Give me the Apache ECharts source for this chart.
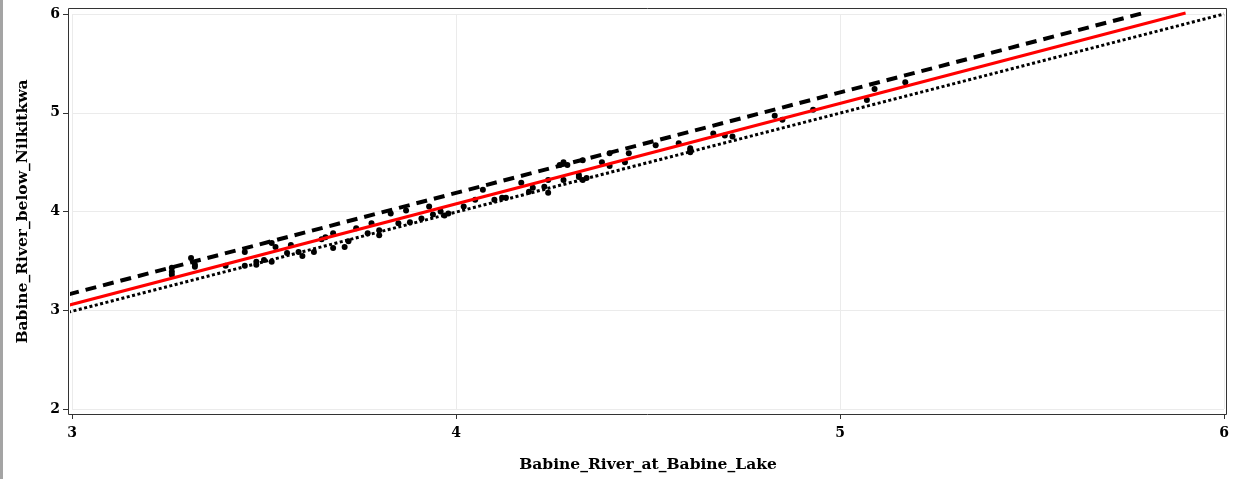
<!DOCTYPE html>
<html>
<head>
<meta charset="utf-8">
<script src="https://cdn.jsdelivr.net/npm/echarts@6/dist/echarts.min.js"></script>
<style>
  html, body { margin: 0; padding: 0; background: #fff; }
  #ec { width: 1233px; height: 479px; box-sizing: border-box; border-left: 3px solid #a4a4a4; }
</style>
</head>
<body>
<div id="ec"></div>
<script>
const obsX = [3.26, 3.26, 3.26, 3.31, 3.32, 3.32, 3.40, 3.45, 3.45, 3.48, 3.48, 3.50, 3.52, 3.52, 3.53, 3.56, 3.57, 3.59, 3.60, 3.63,
  3.65, 3.66, 3.68, 3.68, 3.71, 3.72, 3.74, 3.77, 3.78, 3.80, 3.80, 3.83, 3.85, 3.87, 3.88, 3.91, 3.93, 3.94, 3.96, 3.97,
  3.98, 4.02, 4.05, 4.07, 4.10, 4.12, 4.13, 4.17, 4.19, 4.20, 4.23, 4.24, 4.24, 4.27, 4.28, 4.28, 4.29, 4.32, 4.32, 4.33,
  4.33, 4.34, 4.38, 4.40, 4.40, 4.44, 4.45, 4.52, 4.58, 4.61, 4.61, 4.61, 4.67, 4.70, 4.72, 4.83, 4.85, 4.93, 5.07, 5.09, 5.17];
const obsY = [3.39, 3.43, 3.36, 3.53, 3.46, 3.44, 3.45, 3.59, 3.45, 3.49, 3.46, 3.51, 3.68, 3.49, 3.64, 3.58, 3.66, 3.59, 3.55, 3.59,
  3.72, 3.74, 3.78, 3.63, 3.64, 3.70, 3.83, 3.78, 3.88, 3.81, 3.76, 3.98, 3.88, 4.01, 3.89, 3.93, 4.05, 3.97, 4.00, 3.96,
  3.98, 4.05, 4.12, 4.22, 4.12, 4.14, 4.14, 4.29, 4.20, 4.24, 4.25, 4.19, 4.32, 4.47, 4.50, 4.32, 4.47, 4.37, 4.35, 4.52,
  4.32, 4.34, 4.50, 4.46, 4.59, 4.50, 4.59, 4.67, 4.69, 4.64, 4.60, 4.62, 4.79, 4.77, 4.76, 4.97, 4.93, 5.03, 5.13, 5.24, 5.31];

// reference lines: 1:1, upper (dashed), fitted (red)
const oneToOne = [[2.99, 2.98], [6.0, 6.0]];
const upperLine = [[2.99, 3.16], [5.80, 6.02]];
const fitLine = [[2.99, 3.05], [5.90, 6.01]];

const xTicks = [3, 6];
const yTicks = [2, 6];

const font = "DejaVu Serif";

let myChart = echarts.init(document.getElementById("ec"));
myChart.setOption({
  animation: false,
  grid: { left: 69, right: 9, top: 14, bottom: 70 },
  graphic: [
    {
      // plot frame (canvas starts 3px in, after the page edge)
      type: "rect",
      shape: { x: 65.5, y: 8.5, width: 1158, height: 406 },
      style: { fill: null, stroke: "#333", lineWidth: 1 },
      z: 10,
    },
  ],
  xAxis: {
    type: "value",
    min: xTicks[0],
    max: xTicks[1],
    interval: 1,
    offset: 5,
    name: "Babine_River_at_Babine_Lake",
    nameLocation: "middle",
    nameGap: 43,
    nameTextStyle: { fontFamily: font, fontWeight: "bold", fontSize: 15.5, color: "#000" },
    axisLine: { show: false },
    axisTick: { show: true, length: 5, lineStyle: { color: "#333" } },
    axisLabel: { margin: 12, fontFamily: font, fontWeight: "bold", fontSize: 14, color: "#000" },
    splitLine: { show: true, lineStyle: { color: "#ebebeb", width: 1 } },
  },
  yAxis: {
    type: "value",
    min: yTicks[0],
    max: yTicks[1],
    interval: 1,
    offset: 4,
    name: "Babine_River_below_Nilkitkwa",
    nameLocation: "middle",
    nameRotate: 90,
    nameGap: 37,
    nameTextStyle: { fontFamily: font, fontWeight: "bold", fontSize: 15.5, color: "#000" },
    axisLine: { show: false },
    axisTick: { show: true, length: 5, lineStyle: { color: "#333" } },
    axisLabel: { margin: 8, fontFamily: font, fontWeight: "bold", fontSize: 14, color: "#000" },
    splitLine: { show: true, lineStyle: { color: "#ebebeb", width: 1 } },
  },
  series: [
    {
      type: "line",
      data: oneToOne,
      symbol: "none",
      clip: false,
      lineStyle: { color: "#000", width: 3, type: [3, 2.5] },
    },
    {
      type: "line",
      data: upperLine,
      symbol: "none",
      clip: false,
      lineStyle: { color: "#000", width: 4, type: [11, 7] },
    },
    {
      type: "scatter",
      data: obsX.map((x, i) => [x, obsY[i]]),
      symbolSize: 6,
      itemStyle: { color: "#000", opacity: 1 },
    },
    {
      type: "line",
      data: fitLine,
      symbol: "none",
      clip: false,
      lineStyle: { color: "#ff0000", width: 3 },
    },
  ],
});
</script>
</body>
</html>
